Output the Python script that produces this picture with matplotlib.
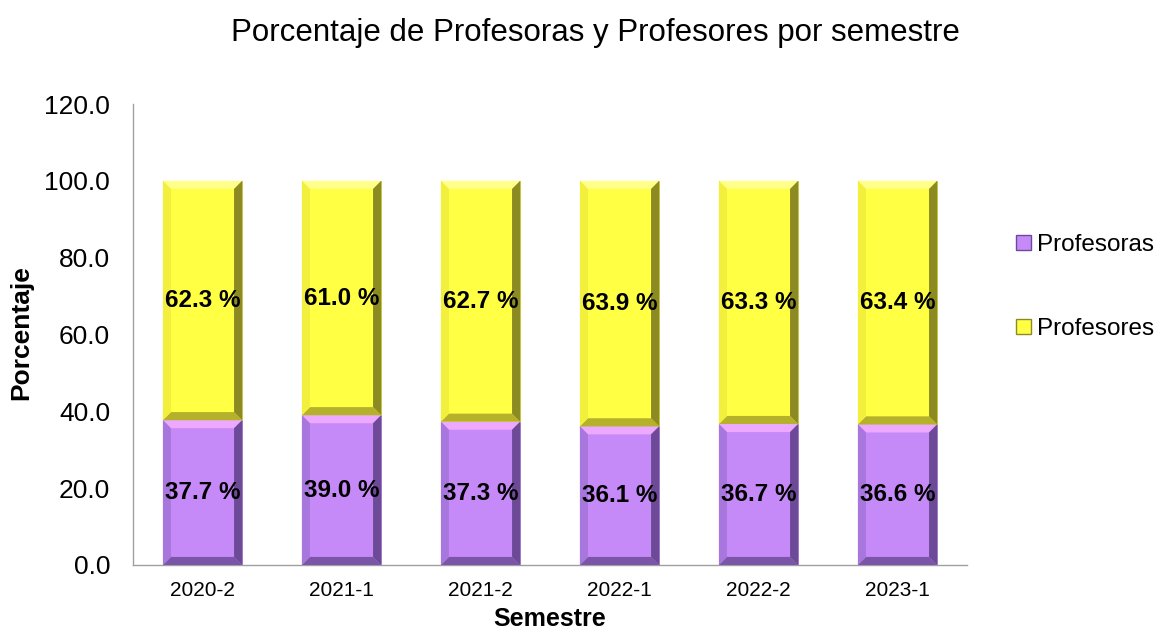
import matplotlib
matplotlib.use("Agg")
import matplotlib.pyplot as plt
from matplotlib.patches import Polygon, Patch
import numpy as np

plt.rcParams['font.family'] = ['Liberation Sans', 'DejaVu Sans']

semestres = ["2020-2", "2021-1", "2021-2", "2022-1", "2022-2", "2023-1"]
profesoras = [37.7, 39.0, 37.3, 36.1, 36.7, 36.6]
profesores = [62.3, 61.0, 62.7, 63.9, 63.3, 63.4]

purple = dict(face="#C689F8", top="#ECA9FF", left="#A877DD", right="#6C4A98", bottom="#7A55A8", edge="#9C74C8")
yellow = dict(face="#FFFF44", top="#FFFF8A", left="#F2F03C", right="#8C8A22", bottom="#B5B12A", edge="#C8C43A")

fig = plt.figure(figsize=(11.54, 6.30), dpi=100)
ax = fig.add_axes([133/1154, 1-565/630, (967-133)/1154, (565-104)/630])

x = np.arange(len(semestres))
width = 0.57

def bevel(ax, bars, col):
    dx = 0.058
    dy = 2.1
    for b in bars:
        x0, y0 = b.get_x(), b.get_y()
        x1, y1 = x0 + b.get_width(), y0 + b.get_height()
        polys = {
            "top": [(x0, y1), (x1, y1), (x1 - dx, y1 - dy), (x0 + dx, y1 - dy)],
            "bottom": [(x0, y0), (x1, y0), (x1 - dx, y0 + dy), (x0 + dx, y0 + dy)],
            "left": [(x0, y0), (x0, y1), (x0 + dx, y1 - dy), (x0 + dx, y0 + dy)],
            "right": [(x1, y0), (x1, y1), (x1 - dx, y1 - dy), (x1 - dx, y0 + dy)],
        }
        for k, pts in polys.items():
            ax.add_patch(Polygon(pts, closed=True, facecolor=col[k], edgecolor="none", zorder=3))

b1 = ax.bar(x, profesoras, width, color=purple["face"], edgecolor=purple["edge"], linewidth=0.6, zorder=2)
b2 = ax.bar(x, profesores, width, bottom=profesoras, color=yellow["face"], edgecolor=yellow["edge"], linewidth=0.6, zorder=2)
bevel(ax, b1, purple)
bevel(ax, b2, yellow)

for xi, a, b in zip(x, profesoras, profesores):
    ax.text(xi, a / 2, f"{a:.1f} %", ha="center", va="center", fontsize=17.5, fontweight="bold", zorder=5)
    ax.text(xi, a + b / 2, f"{b:.1f} %", ha="center", va="center", fontsize=17.5, fontweight="bold", zorder=5)

ax.set_xlim(-0.5, len(semestres) - 0.5)
ax.set_ylim(0, 120)
ax.set_yticks(np.arange(0, 121, 20))
ax.set_yticklabels([f"{v:.1f}" for v in np.arange(0, 121, 20)], fontsize=19)
ax.set_xticks(x)
ax.set_xticklabels(semestres, fontsize=15)
ax.tick_params(axis="y", length=0, pad=16.5)
ax.tick_params(axis="x", length=0, pad=11.5)
for s in ["top", "right"]:
    ax.spines[s].set_visible(False)
for s in ["left", "bottom"]:
    ax.spines[s].set_color("#A0A0A0")
    ax.spines[s].set_linewidth(1.0)

ax.set_xlabel("Semestre", fontsize=18, fontweight="bold", labelpad=5)
fig.text(21/1154, 1 - 333/630, "Porcentaje", rotation=90, ha="center", va="center", fontsize=19, fontweight="bold")
fig.text(595/1154, 1 - 33/630, "Porcentaje de Profesoras y Profesores por semestre", ha="center", va="center", fontsize=22.5)

handles = [Patch(facecolor=purple["face"], edgecolor=purple["right"], label="Profesoras"),
           Patch(facecolor=yellow["face"], edgecolor=yellow["right"], label="Profesores")]
fig.legend(handles=handles, loc="center left", bbox_to_anchor=(1016/1154, 1 - 287/630), frameon=False,
           fontsize=17.5, handlelength=0.6, handleheight=0.6, handletextpad=0.25, labelspacing=2.55, borderaxespad=0,
           borderpad=0)

fig.savefig("out.png", dpi=100)
